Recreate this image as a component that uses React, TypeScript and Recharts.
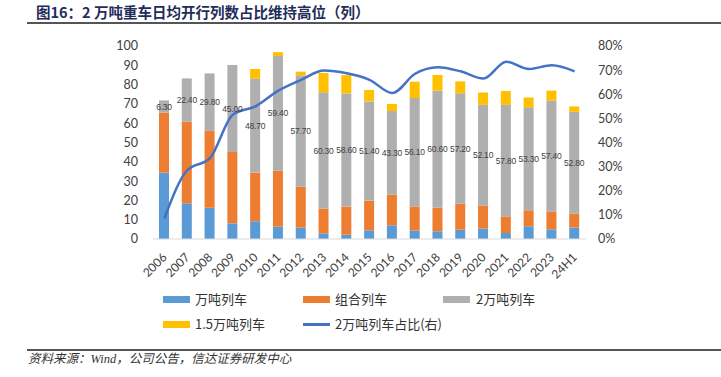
import React from "react";
import { ComposedChart, Bar, Line, XAxis, YAxis, LabelList } from "recharts";

const categories = ["2006","2007","2008","2009","2010","2011","2012","2013","2014","2015","2016","2017","2018","2019","2020","2021","2022","2023","24H1"];
const wanDun = [34.4,18.5,16.2,8.1,9.2,6.4,5.9,2.9,2.2,4.5,7.1,4.3,4.0,4.8,5.4,3.1,6.6,5.0,5.9];
const zuhe = [31.1,42.3,39.8,37.0,25.2,29.0,21.2,12.8,14.6,15.4,15.9,12.6,12.2,13.5,12.0,8.6,8.3,9.3,7.2];
const liangWan = [6.3,22.4,29.8,45.0,48.7,59.4,57.7,60.3,58.6,51.4,43.3,56.1,60.6,57.2,52.1,57.8,53.3,57.4,52.8];
const yiWuWan = [0,0,0,0,5.0,2.0,1.9,10.0,9.5,5.9,3.7,8.5,8.2,6.2,6.4,7.2,5.1,5.2,2.8];
const ratio = [0.085,0.285,0.335,0.515,0.55,0.615,0.66,0.698,0.687,0.66,0.605,0.685,0.712,0.695,0.665,0.735,0.705,0.72,0.695];
const leftTicks = [0,10,20,30,40,50,60,70,80,90,100];
const rightTicks = [0,0.1,0.2,0.3,0.4,0.5,0.6,0.7,0.8];

const data = categories.map((c, i) => ({
  name: c,
  wanDun: wanDun[i],
  zuhe: zuhe[i],
  liangWan: liangWan[i],
  yiWuWan: yiWuWan[i],
  ratio: ratio[i],
}));

const C_BLUE = "#5B9BD5";
const C_ORANGE = "#ED7D31";
const C_GRAY = "#AFAFAF";
const C_YELLOW = "#FFC000";
const C_LINE = "#4472C4";
const FONT = "Lato, 'Noto Sans CJK SC', sans-serif";
const CJK = "'Noto Sans CJK SC', sans-serif";

const XTick = (props: any) => {
  const { x, y, payload } = props;
  const ax = x;
  const ay = y + 16;
  return (
    <text
      x={ax}
      y={ay}
      transform={`rotate(-45, ${ax}, ${ay})`}
      textAnchor="end"
      dominantBaseline="central"
      fontSize={12}
      fontFamily={FONT}
      fill="#404040"
    >
      {payload.value}
    </text>
  );
};

const Swatch = ({ x, y, color }: { x: number; y: number; color: string }) => (
  <div style={{ position: "absolute", left: x, top: y - 3.5, width: 27, height: 7, background: color }} />
);

const LegendText = ({ x, y, text }: { x: number; y: number; text: string }) => (
  <div style={{ position: "absolute", left: x, top: y - 9, height: 18, lineHeight: "18px", fontSize: 13, fontFamily: CJK, color: "#333", whiteSpace: "nowrap" }}>
    {text}
  </div>
);

export default function App() {
  return (
    <div style={{ position: "absolute", left: 0, top: 0, width: 721, height: 377, background: "#fff", overflow: "hidden" }}>
      <div style={{ position: "absolute", left: 36, top: 2, fontSize: 14.5, fontWeight: 700, fontFamily: CJK, color: "#1F2D5A", whiteSpace: "nowrap", lineHeight: "20px" }}>
        图16：2 万吨重车日均开行列数占比维持高位（列）
      </div>
      <div style={{ position: "absolute", left: 27, top: 22, width: 694, height: 2, background: "#555" }} />

      <div style={{ position: "absolute", left: 0, top: 0 }}>
        <ComposedChart width={721} height={377} data={data} margin={{ top: 46, right: 0, left: 0, bottom: 98 }}>
          <XAxis
            dataKey="name"
            height={40}
            tickLine={false}
            tickSize={0}
            tickMargin={0}
            axisLine={{ stroke: "#D9D9D9", strokeWidth: 1 }}
            tick={<XTick />}
            interval={0}
          />
          <YAxis
            yAxisId="left"
            orientation="left"
            width={153}
            domain={[0, 100]}
            ticks={leftTicks}
            interval={0}
            axisLine={false}
            tickLine={false}
            tickSize={0}
            tickMargin={15}
            tick={{ fontSize: 12.5, fill: "#404040", fontFamily: FONT }}
          />
          <YAxis
            yAxisId="right"
            orientation="right"
            width={135}
            domain={[0, 0.8]}
            ticks={rightTicks}
            interval={0}
            axisLine={false}
            tickLine={false}
            tickSize={0}
            tickMargin={12}
            tickFormatter={(v: number) => `${Math.round(v * 100)}%`}
            tick={{ fontSize: 12.5, fill: "#404040", fontFamily: FONT }}
          />
          <Bar yAxisId="left" dataKey="wanDun" stackId="s" fill={C_BLUE} barSize={10} isAnimationActive={false} />
          <Bar yAxisId="left" dataKey="zuhe" stackId="s" fill={C_ORANGE} barSize={10} isAnimationActive={false} />
          <Bar yAxisId="left" dataKey="liangWan" stackId="s" fill={C_GRAY} barSize={10} isAnimationActive={false}>
            <LabelList
              dataKey="liangWan"
              position="center"
              formatter={(v: any) => Number(v).toFixed(2)}
              style={{ fontSize: 8.5, fill: "#404040", fontFamily: "'Liberation Sans', sans-serif", letterSpacing: -0.2 }}
            />
          </Bar>
          <Bar yAxisId="left" dataKey="yiWuWan" stackId="s" fill={C_YELLOW} barSize={10} isAnimationActive={false} />
          <Line yAxisId="right" dataKey="ratio" type="monotone" stroke={C_LINE} strokeWidth={2.5} dot={false} activeDot={false} isAnimationActive={false} />
        </ComposedChart>
      </div>

      <Swatch x={163} y={299} color={C_BLUE} />
      <LegendText x={195} y={299} text="万吨列车" />
      <Swatch x={303} y={299} color={C_ORANGE} />
      <LegendText x={335} y={299} text="组合列车" />
      <Swatch x={443} y={299} color={C_GRAY} />
      <LegendText x={476} y={299} text="2万吨列车" />
      <Swatch x={163} y={324} color={C_YELLOW} />
      <LegendText x={195} y={324} text="1.5万吨列车" />
      <div style={{ position: "absolute", left: 303, top: 323, width: 27, height: 2.5, background: C_LINE }} />
      <LegendText x={335} y={324} text="2万吨列车占比(右)" />

      <div style={{ position: "absolute", left: 27, top: 349, width: 694, height: 1.5, background: "#555" }} />
      <div style={{ position: "absolute", left: 28, top: 351, fontSize: 12.5, fontStyle: "italic", fontFamily: "'Liberation Serif', 'Noto Sans CJK SC', serif", color: "#333", whiteSpace: "nowrap", lineHeight: "16px" }}>
        资料来源：Wind，公司公告，信达证券研发中心
      </div>
    </div>
  );
}
